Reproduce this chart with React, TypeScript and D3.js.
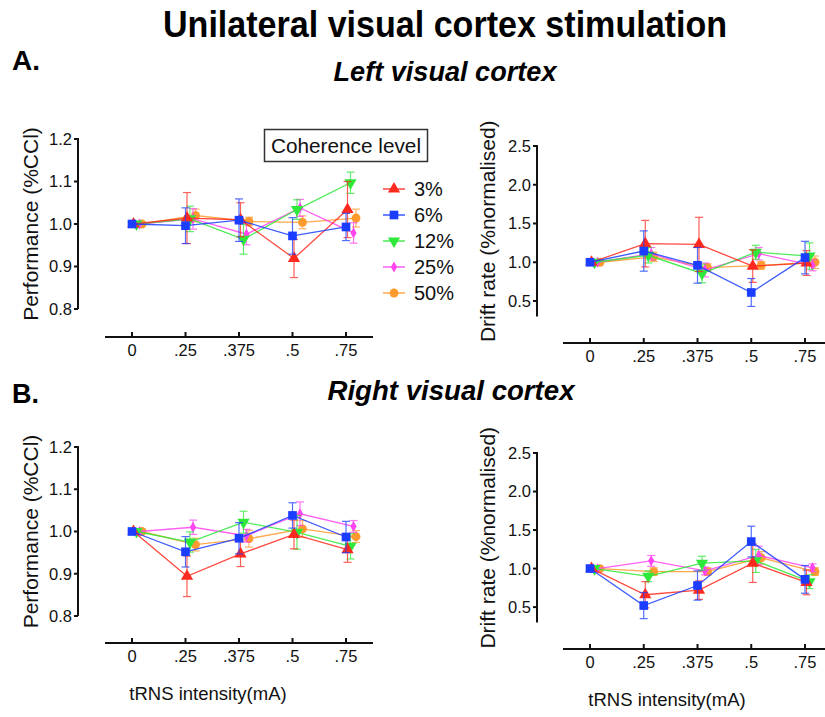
import React from "react";
import * as d3 from "d3";

const intensities = ["0", ".25", ".375", ".5", ".75"];
const coherence = ["3%", "6%", "12%", "25%", "50%"];

// rows follow coherence (3%, 6%, 12%, 25%, 50%), columns follow intensities
const leftPerf = [
  [1.0, 1.014, 1.01, 0.919, 1.034],
  [1.0, 0.996, 1.009, 0.972, 0.993],
  [1.0, 1.012, 0.964, 1.034, 1.097],
  [1.0, 1.012, 0.976, 1.038, 0.979],
  [1.0, 1.02, 1.006, 1.004, 1.014],
];
const leftPerfErr = [
  [0, 0.06, 0.04, 0.045, 0.066],
  [0, 0.042, 0.05, 0.043, 0.032],
  [0, 0.03, 0.035, 0.023, 0.025],
  [0, 0.024, 0.025, 0.02, 0.024],
  [0, 0.015, 0.01, 0.015, 0.021],
];
const leftDrift = [
  [1.0, 1.24, 1.23, 0.95, 0.99],
  [1.0, 1.145, 0.96, 0.61, 1.06],
  [1.0, 1.09, 0.855, 1.13, 1.08],
  [1.0, 1.11, 0.9, 1.11, 0.96],
  [1.0, 1.07, 0.93, 0.96, 1.0],
];
const leftDriftErr = [
  [0, 0.3, 0.35, 0.21, 0.16],
  [0, 0.26, 0.23, 0.18, 0.21],
  [0, 0.1, 0.12, 0.09, 0.17],
  [0, 0.08, 0.09, 0.08, 0.07],
  [0, 0.06, 0.05, 0.05, 0.08],
];
const rightPerf = [
  [1.0, 0.894, 0.947, 0.993, 0.957],
  [1.0, 0.952, 0.984, 1.038, 0.987],
  [1.0, 0.975, 1.022, 0.998, 0.965],
  [1.0, 1.01, 0.99, 1.042, 1.012],
  [1.0, 0.969, 0.983, 1.006, 0.988],
];
const rightPerfErr = [
  [0, 0.048, 0.03, 0.034, 0.03],
  [0, 0.036, 0.037, 0.03, 0.037],
  [0, 0.024, 0.026, 0.04, 0.03],
  [0, 0.017, 0.015, 0.028, 0.014],
  [0, 0.015, 0.02, 0.02, 0.014],
];
const rightDrift = [
  [1.0, 0.66, 0.72, 1.07, 0.82],
  [1.0, 0.52, 0.78, 1.35, 0.86],
  [1.0, 0.9, 1.07, 1.1, 0.83],
  [1.0, 1.1, 0.97, 1.17, 1.01],
  [1.0, 0.96, 0.96, 1.14, 0.96],
];
const rightDriftErr = [
  [0, 0.17, 0.12, 0.25, 0.16],
  [0, 0.17, 0.19, 0.2, 0.18],
  [0, 0.07, 0.09, 0.15, 0.09],
  [0, 0.07, 0.05, 0.12, 0.05],
  [0, 0.05, 0.05, 0.08, 0.05],
];

const perfTicks = [0.8, 0.9, 1.0, 1.1, 1.2];
const driftTicks = [0.5, 1.0, 1.5, 2.0, 2.5];

const colors = ["#ff2a1f", "#1a3dff", "#2ee83a", "#ff44f0", "#ff9a2e"];
const offsets = [1.5, 0, 4.5, 7.5, 10];
const drawOrder = [4, 3, 2, 0, 1];
const font = "'Liberation Sans', Arial, Helvetica, sans-serif";

const symbolPath = (k: number) => {
  const types = [d3.symbolTriangle, d3.symbolSquare, d3.symbolTriangle, d3.symbolDiamond, d3.symbolCircle];
  const sizes = [65, 75, 65, 34, 62];
  return d3.symbol().type(types[k]).size(sizes[k])() as string;
};

const Marker = ({ k, x, y }: { k: number; x: number; y: number }) => (
  <path
    d={symbolPath(k)}
    fill={colors[k]}
    transform={`translate(${x},${y})${k === 2 ? " rotate(180)" : ""}`}
  />
);

type PanelProps = {
  values: number[][];
  errors: number[][];
  domain: [number, number];
  ticks: number[];
  range: [number, number];
  xRange: [number, number];
  axisX: number;
  axisY: number;
  label: string;
  labelX: number;
  xTitle?: { x: number; y: number };
};

const Panel = ({ values, errors, domain, ticks, range, xRange, axisX, axisY, label, labelX, xTitle }: PanelProps) => {
  const y = d3.scaleLinear().domain(domain).range(range);
  const x = d3.scalePoint().domain(intensities).range(xRange);
  const fmt = d3.format(".1f");
  const line = d3
    .line<number>()
    .x((_, i) => x(intensities[i]) as number)
    .y((d) => y(d));
  const yTop = y(ticks[ticks.length - 1]);
  const yBot = range[0];
  return (
    <g>
      {/* y axis */}
      <line x1={axisX} x2={axisX} y1={yTop - 1} y2={yBot} stroke="#111" strokeWidth={2} />
      {ticks.map((t) => (
        <g key={t}>
          <line x1={axisX - 4} x2={axisX} y1={y(t)} y2={y(t)} stroke="#111" strokeWidth={2} />
          <text x={axisX - 6} y={y(t)} dy="0.36em" textAnchor="end" fontSize={16.5} fill="#111">
            {fmt(t)}
          </text>
        </g>
      ))}
      <text
        transform={`translate(${labelX},${(yTop + yBot) / 2}) rotate(-90)`}
        textAnchor="middle"
        dy="0.36em"
        fontSize={21}
        fill="#111"
      >
        {label}
      </text>
      {/* x axis */}
      <line x1={xRange[0] - 27} x2={xRange[1] + 27} y1={axisY} y2={axisY} stroke="#111" strokeWidth={2} />
      {intensities.map((c) => (
        <g key={c}>
          <line x1={x(c)} x2={x(c)} y1={axisY - 5} y2={axisY} stroke="#111" strokeWidth={2} />
          <text x={x(c)} y={axisY + 19} textAnchor="middle" fontSize={16.5} fill="#111">
            {c}
          </text>
        </g>
      ))}
      {xTitle && (
        <text x={xTitle.x} y={xTitle.y} textAnchor="middle" fontSize={18.5} fill="#111">
          tRNS intensity(mA)
        </text>
      )}
      {/* series */}
      {drawOrder.map((k) => (
        <g key={k} transform={`translate(${offsets[k]},0)`}>
          <path d={line(values[k]) as string} fill="none" stroke={colors[k]} strokeWidth={1.3} opacity={0.85} />
          {values[k].map((v, i) =>
            errors[k][i] > 0 ? (
              <g key={i} stroke={colors[k]} strokeWidth={1.2} opacity={0.75}>
                <line x1={x(intensities[i])} x2={x(intensities[i])} y1={y(v - errors[k][i])} y2={y(v + errors[k][i])} />
                <line x1={(x(intensities[i]) as number) - 4} x2={(x(intensities[i]) as number) + 4} y1={y(v + errors[k][i])} y2={y(v + errors[k][i])} />
                <line x1={(x(intensities[i]) as number) - 4} x2={(x(intensities[i]) as number) + 4} y1={y(v - errors[k][i])} y2={y(v - errors[k][i])} />
              </g>
            ) : null
          )}
          {values[k].map((v, i) => (
            <Marker key={i} k={k} x={x(intensities[i]) as number} y={y(v)} />
          ))}
        </g>
      ))}
    </g>
  );
};

const Legend = () => {
  const ly = d3.scalePoint().domain(coherence).range([189, 293]);
  return (
    <g>
      <rect x={264.5} y={129.5} width={163} height={32} fill="#fff" stroke="#333" strokeWidth={1.5} />
      <text x={346} y={152.5} textAnchor="middle" fontSize={21} textLength={150} lengthAdjust="spacingAndGlyphs" fill="#111">
        Coherence level
      </text>
      {coherence.map((c, k) => (
        <g key={c}>
          <line x1={383} x2={405} y1={ly(c)} y2={ly(c)} stroke={colors[k]} strokeWidth={1.3} />
          <Marker k={k} x={394} y={ly(c) as number} />
          <text x={414} y={ly(c)} dy="0.36em" fontSize={20} fill="#111">
            {c}
          </text>
        </g>
      ))}
    </g>
  );
};

export default function App() {
  return (
    <svg
      width={825}
      height={717}
      style={{ position: "absolute", left: 0, top: 0, background: "#fff", fontFamily: font }}
    >
      <text x={445} y={37} textAnchor="middle" fontSize={36} fontWeight="bold" textLength={564} lengthAdjust="spacingAndGlyphs" fill="#000">
        Unilateral visual cortex stimulation
      </text>
      <text x={12} y={70} fontSize={27} fontWeight="bold" textLength={28} lengthAdjust="spacingAndGlyphs" fill="#000">
        A.
      </text>
      <text x={445} y={81} textAnchor="middle" fontSize={27} fontWeight="bold" fontStyle="italic" textLength={223} lengthAdjust="spacingAndGlyphs" fill="#000">
        Left visual cortex
      </text>
      <text x={12} y={403} fontSize={27} fontWeight="bold" textLength={27} lengthAdjust="spacingAndGlyphs" fill="#000">
        B.
      </text>
      <text x={451} y={400} textAnchor="middle" fontSize={27} fontWeight="bold" fontStyle="italic" textLength={247} lengthAdjust="spacingAndGlyphs" fill="#000">
        Right visual cortex
      </text>

      <Panel
        values={leftPerf}
        errors={leftPerfErr}
        domain={[0.8, 1.2]}
        ticks={perfTicks}
        range={[309, 139]}
        xRange={[132, 346]}
        axisX={78}
        axisY={337}
        label="Performance (%CCl)"
        labelX={30}
      />
      <Panel
        values={leftDrift}
        errors={leftDriftErr}
        domain={[0.3, 2.5]}
        ticks={driftTicks}
        range={[316.5, 146]}
        xRange={[590, 805]}
        axisX={537}
        axisY={343}
        label="Drift rate (%normalised)"
        labelX={487}
      />
      <Panel
        values={rightPerf}
        errors={rightPerfErr}
        domain={[0.8, 1.2]}
        ticks={perfTicks}
        range={[616, 447]}
        xRange={[132, 346]}
        axisX={78}
        axisY={643}
        label="Performance (%CCl)"
        labelX={30}
        xTitle={{ x: 208, y: 700 }}
      />
      <Panel
        values={rightDrift}
        errors={rightDriftErr}
        domain={[0.3, 2.5]}
        ticks={driftTicks}
        range={[622.5, 453]}
        xRange={[590, 805]}
        axisX={537}
        axisY={649}
        label="Drift rate (%normalised)"
        labelX={487}
        xTitle={{ x: 667, y: 706 }}
      />
      <Legend />
    </svg>
  );
}
